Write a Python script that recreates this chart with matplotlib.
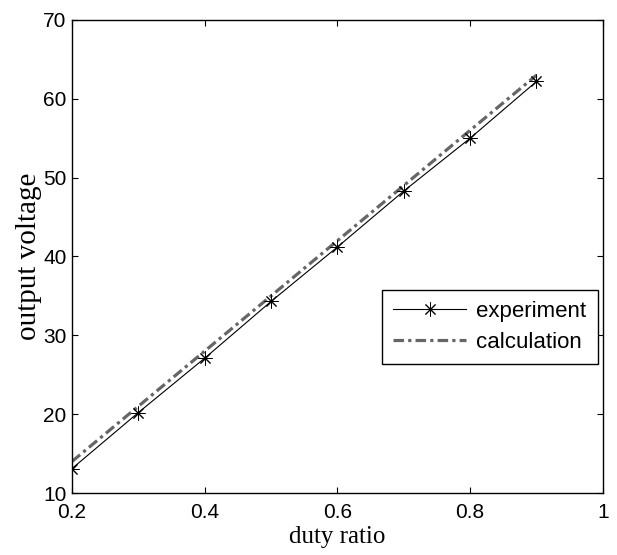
import matplotlib.pyplot as plt
from matplotlib.ticker import FuncFormatter

duty = [0.2, 0.3, 0.4, 0.5, 0.6, 0.7, 0.8, 0.9]
experiment = [13.1, 20.2, 27.1, 34.3, 41.2, 48.3, 55.0, 62.2]
calculation = [14.0, 21.0, 28.0, 35.0, 42.0, 49.0, 56.0, 63.0]

xticks = [0.2, 0.4, 0.6, 0.8, 1.0]
yticks = [10, 20, 30, 40, 50, 60, 70]

fig = plt.figure(figsize=(6.17, 5.55), dpi=100)
ax = fig.add_axes([0.1167, 0.1117, 0.8603, 0.8523])

ax.plot(duty, calculation, color='#666666', linewidth=2.3, dashes=(3.3, 1.3, 1.0, 1.3),
        label='calculation')
ax.plot(duty, experiment, color='black', linewidth=0.8, marker=(8, 2, 0),
        markersize=10, markeredgewidth=0.7, label='experiment')

ax.set_xlim(0.2, 1.0)
ax.set_ylim(10, 70)
ax.set_xticks(xticks)
ax.set_yticks(yticks)
ax.xaxis.set_major_formatter(FuncFormatter(lambda v, p: '%g' % v))
ax.tick_params(direction='in', top=True, right=True, length=4, width=0.8,
               labelsize=15)
ax.tick_params(axis='x', pad=7)
ax.tick_params(axis='y', pad=4)
for lab in ax.get_xticklabels() + ax.get_yticklabels():
    lab.set_fontfamily('Liberation Sans')
for s in ax.spines.values():
    s.set_linewidth(1.0)

ax.set_xlabel('duty ratio', fontfamily='Liberation Serif', fontsize=18, labelpad=3)
ax.set_ylabel('output voltage', fontfamily='Liberation Serif', fontsize=21, labelpad=1)

h, l = ax.get_legend_handles_labels()
leg = fig.legend([h[1], h[0]], [l[1], l[0]], loc='upper left',
                 bbox_to_anchor=(0.619, 0.4775), prop={'family': 'Liberation Sans', 'size': 16},
                 fancybox=False, edgecolor='black', framealpha=1, borderaxespad=0,
                 handlelength=3.3, handletextpad=0.45, borderpad=0.5, labelspacing=0.45)
leg.get_frame().set_linewidth(1.0)

fig.savefig('out.png', dpi=100)
